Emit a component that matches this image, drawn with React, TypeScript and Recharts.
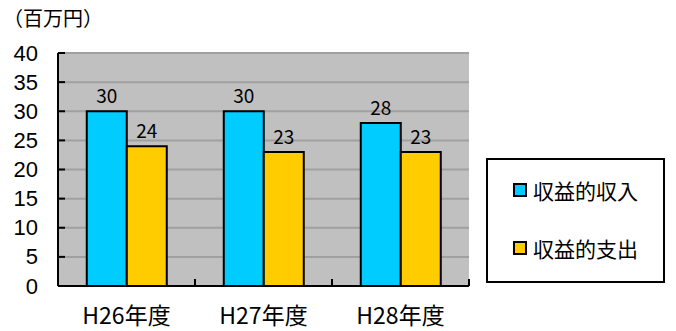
import { BarChart, Bar, XAxis, YAxis, CartesianGrid, Legend, LabelList } from "recharts";

const FISCAL_YEARS = ["H26年度", "H27年度", "H28年度"];
const REVENUE_INCOME = [30, 30, 28];
const REVENUE_EXPENSE = [24, 23, 23];
const Y_TICKS = [0, 5, 10, 15, 20, 25, 30, 35, 40];
const SERIES = [
  { key: "income", name: "収益的収入", color: "#00ccff" },
  { key: "expense", name: "収益的支出", color: "#ffcc00" },
];

const data = FISCAL_YEARS.map((year, i) => ({
  year,
  income: REVENUE_INCOME[i],
  expense: REVENUE_EXPENSE[i],
}));

const FONT = "'Noto Sans CJK JP', 'Noto Sans', sans-serif";

// y ticks point into the plot; numbers sit left of the axis
function YTick({ x, y, payload }: any) {
  return (
    <g>
      <line x1={x} x2={x + 7} y1={y} y2={y} stroke="#000" strokeWidth={2} />
      <text
        x={x - 20}
        y={y}
        textAnchor="end"
        dominantBaseline="central"
        fontSize={22}
        fontFamily="'Liberation Sans', Arial, sans-serif"
        fill="#000"
      >
        {payload.value}
      </text>
    </g>
  );
}

// x ticks mark the category boundaries, label goes in the middle
function XTick({ x, y, payload }: any) {
  const edge = x + (payload.offset ?? 0);
  return (
    <g>
      <line x1={edge} x2={edge} y1={y} y2={y - 7} stroke="#000" strokeWidth={2} />
      <text x={x} y={y + 38} textAnchor="middle" fontSize={23} fontFamily={FONT} fill="#000">
        {payload.value}
      </text>
    </g>
  );
}

function LegendBox() {
  return (
    <div
      style={{
        position: "relative",
        width: 179,
        height: 125,
        border: "2px solid #000",
        boxSizing: "border-box",
        background: "#fff",
        fontFamily: FONT,
      }}
    >
      {SERIES.map((s, i) => (
        <div
          key={s.key}
          style={{
            position: "absolute",
            left: 25,
            top: 17 + i * 58,
            height: 26,
            display: "flex",
            alignItems: "center",
          }}
        >
          <span
            style={{
              width: 14,
              height: 14,
              boxSizing: "border-box",
              border: "2px solid #000",
              background: s.color,
              marginRight: 6,
            }}
          />
          <span style={{ fontSize: 21, lineHeight: "26px", color: "#000" }}>{s.name}</span>
        </div>
      ))}
    </div>
  );
}

export default function App() {
  return (
    <div style={{ position: "absolute", left: 0, top: 0, width: 676, height: 331, background: "#fff", fontFamily: FONT }}>
      <div style={{ position: "absolute", left: 3, top: 8, fontSize: 20, lineHeight: 1, color: "#000", zIndex: 1 }}>
        （百万円）
      </div>
      <BarChart
        width={676}
        height={331}
        data={data}
        margin={{ top: 53, right: 207, bottom: 0, left: 0 }}
        barGap={0}
        barCategoryGap="21%"
      >
        <CartesianGrid vertical={false} fill="#c0c0c0" stroke="#a0a0a0" strokeWidth={2} />
        {SERIES.map((s) => (
          <Bar
            key={s.key}
            dataKey={s.key}
            name={s.name}
            fill={s.color}
            stroke="#000"
            strokeWidth={2}
            isAnimationActive={false}
          >
            <LabelList dataKey={s.key} position="top" offset={8} fontSize={19} fill="#000" fontFamily={FONT} />
          </Bar>
        ))}
        <XAxis
          dataKey="year"
          height={45}
          tickSize={0}
          tickMargin={0}
          tickLine={false}
          axisLine={{ stroke: "#000", strokeWidth: 2 }}
          tick={<XTick />}
        />
        <YAxis
          width={58}
          domain={[0, 40]}
          ticks={Y_TICKS}
          tickSize={0}
          tickMargin={0}
          tickLine={false}
          axisLine={{ stroke: "#000", strokeWidth: 2 }}
          tick={<YTick />}
        />
        <YAxis
          yAxisId="edge"
          orientation="right"
          width={0}
          tick={false}
          tickLine={false}
          axisLine={{ stroke: "#999", strokeWidth: 2 }}
        />
        <Legend
          layout="horizontal"
          verticalAlign="middle"
          content={<LegendBox />}
          wrapperStyle={{ left: 486, top: 158, width: 179, height: 125 }}
        />
      </BarChart>
    </div>
  );
}
